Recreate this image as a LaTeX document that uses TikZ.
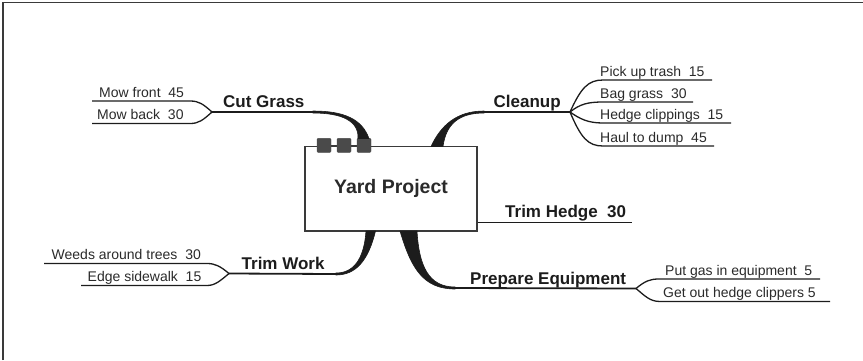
\documentclass[tikz,border=0pt]{standalone}
\usepackage{fontspec}
\setmainfont{Liberation Sans}
\definecolor{ink}{HTML}{1C1C1C}
\definecolor{txt}{HTML}{2A2A2A}
\definecolor{framec}{HTML}{3A3A3A}
\definecolor{sqc}{HTML}{4A4A4A}
\tikzset{
  title/.style={anchor=base west, inner sep=0pt, text=ink, font=\fontsize{17}{19}\selectfont\bfseries},
  leaf/.style={anchor=base west, inner sep=0pt, text=txt, font=\fontsize{14}{16}\selectfont},
  twig/.style={draw=ink, line width=1.3pt},
  limb/.style={draw=ink, line width=1.8pt},
  wedge/.style={fill=ink, draw=ink, line width=0.6pt},
  tab/.style={fill=sqc, draw=sqc, minimum width=14pt, minimum height=14pt, inner sep=0pt, rounded corners=1pt},
}
\begin{document}
\begin{tikzpicture}[x=1pt,y=-1pt]
\useasboundingbox (0,0) rectangle (863,360);
% frame
\draw[framec, line width=1.4pt] (3,360) -- (3,2.5) -- (863,2.5);

% central box
\node[draw=framec, line width=1.3pt, fill=white, minimum width=172pt, minimum height=84.5pt, inner sep=0pt,
      font=\fontsize{19.5}{22}\selectfont\bfseries, text=txt] (root) at (391,188.75) {Yard Project};
\node[tab] (sq1) at (324,145.3) {};
\node[tab] (sq2) at (344,145.3) {};
\node[tab] (sq3) at (364,145.3) {};
\draw[framec, line width=1.3pt] (sq1) -- (sq2) -- (sq3);

% ---------- Cut Grass ----------
\coordinate (cgF) at (212,112);
\coordinate (cgT) at (313,112);
\node[title] (cg) at (223,107.5) {Cut Grass};
\draw[limb] (cgF) -- (cgT);
\fill[wedge] (313,111) .. controls (344,111) and (362,119) .. (369,138.5) -- (358,138.5)
   .. controls (359,121) and (342,113) .. (313,113) -- cycle;
\coordinate (mf) at (92,101);
\coordinate (mb) at (92,123.5);
\node[leaf] (mfT) at (99,97) {Mow front\ \ 45};
\node[leaf] (mbT) at (97,119.5) {Mow back\ \ 30};
\draw[twig] (cgF) .. controls (203,104) and (199,101) .. (190,101) -- (mf);
\draw[twig] (cgF) .. controls (203,120) and (199,123.5) .. (190,123.5) -- (mb);

% ---------- Cleanup ----------
\coordinate (clF) at (570,112);
\coordinate (clT) at (484,112);
\node[title] (cl) at (493.5,107.5) {Cleanup};
\draw[limb] (clT) -- (clF);
\fill[wedge] (431,146.5) .. controls (441,125) and (457,111) .. (484,111) -- (484,113)
   .. controls (459,113) and (446,124) .. (443,146.5) -- cycle;
\coordinate (c1) at (712,80);
\coordinate (c2) at (693,102);
\coordinate (c3) at (731,123);
\coordinate (c4) at (714,146);
\node[leaf] (c1T) at (600,76) {Pick up trash\ \ 15};
\node[leaf] (c2T) at (600,98) {Bag grass\ \ 30};
\node[leaf] (c3T) at (600,119) {Hedge clippings\ \ 15};
\node[leaf] (c4T) at (600,142) {Haul to dump\ \ 45};
\draw[twig] (clF) .. controls (581,88) and (588,80) .. (603,80) -- (c1);
\draw[twig] (clF) .. controls (580,104) and (588,102) .. (603,102) -- (c2);
\draw[twig] (clF) .. controls (580,119) and (588,123) .. (603,123) -- (c3);
\draw[twig] (clF) .. controls (581,138) and (588,146) .. (603,146) -- (c4);

% ---------- Trim Hedge ----------
\coordinate (thS) at (root.east |- 0,222.5);
\coordinate (thE) at (632,222.5);
\node[title] (th) at (505,217.5) {Trim Hedge\ \ 30};
\draw[limb] (thS) -- (thE);

% ---------- Trim Work ----------
\coordinate (twF) at (229,273.5);
\coordinate (twT) at (336,274);
\node[title] (tw) at (241.5,269) {Trim Work};
\draw[limb] (twF) -- (twT);
\fill[wedge] (336,273) .. controls (353,273) and (364,260) .. (366,231) -- (375.5,231)
   .. controls (368,262) and (355,275) .. (336,275) -- cycle;
\coordinate (w1) at (44,263.5);
\coordinate (w2) at (81,285.5);
\node[leaf] (w1T) at (51.5,259.5) {Weeds around trees\ \ 30};
\node[leaf] (w2T) at (87.5,281.5) {Edge sidewalk\ \ 15};
\draw[twig] (twF) .. controls (220,266) and (215,263.5) .. (207,263.5) -- (w1);
\draw[twig] (twF) .. controls (220,281) and (215,285.5) .. (207,285.5) -- (w2);

% ---------- Prepare Equipment ----------
\coordinate (peF) at (636,288.5);
\coordinate (peT) at (455,288);
\node[title] (pe) at (470,284) {Prepare Equipment};
\draw[limb] (peT) -- (peF);
\fill[wedge] (400,231) .. controls (411,268) and (423,289) .. (455,289) -- (455,287)
   .. controls (428,287) and (419,265) .. (417,231) -- cycle;
\coordinate (p1) at (820,279);
\coordinate (p2) at (830,301.5);
\node[leaf] (p1T) at (665,275) {Put gas in equipment\ \ 5};
\node[leaf] (p2T) at (663,297.5) {Get out hedge clippers 5};
\draw[twig] (peF) .. controls (645,281) and (650,279) .. (659,279) -- (p1);
\draw[twig] (peF) .. controls (645,296) and (650,301.5) .. (660,301.5) -- (p2);
\end{tikzpicture}
\end{document}
